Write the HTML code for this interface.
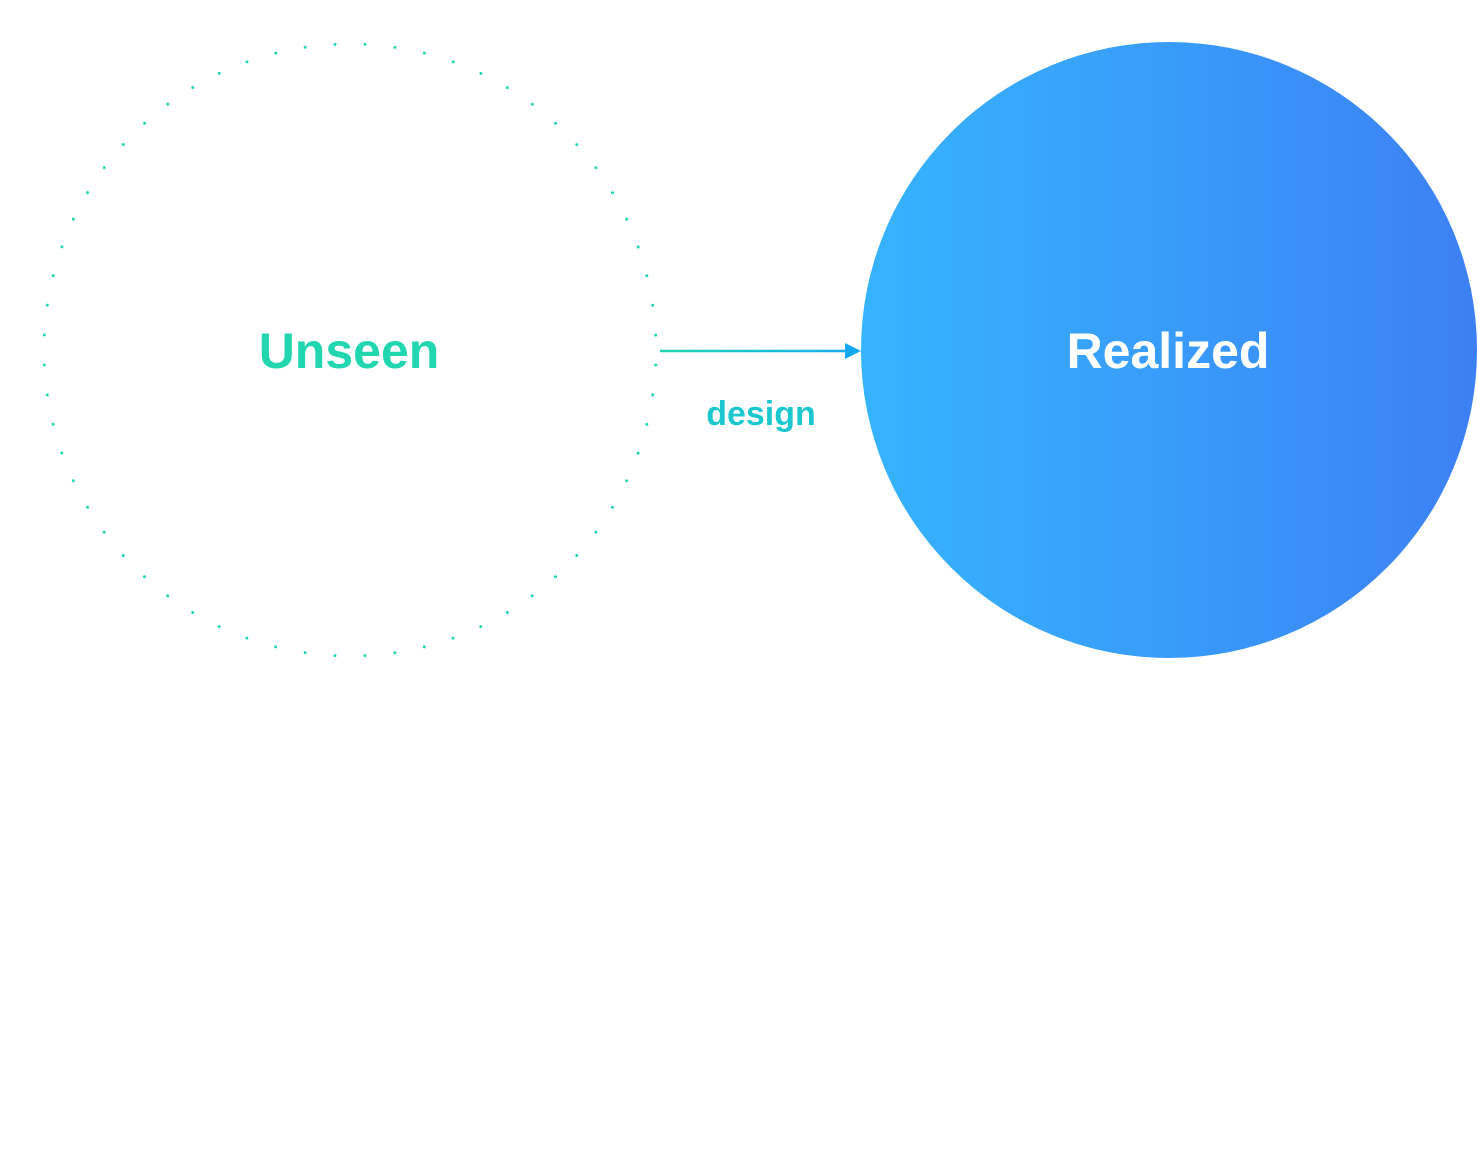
<!DOCTYPE html>
<html><head><style>
html,body{margin:0;padding:0;background:#fff;width:1478px;height:1153px;overflow:hidden}
</style></head><body>
<svg width="1478" height="1153" xmlns="http://www.w3.org/2000/svg">
<defs>
<linearGradient id="g1" x1="0" x2="1" y1="0" y2="0">
<stop offset="0" stop-color="#36b4fe"/><stop offset="0.5" stop-color="#389cfa"/><stop offset="1" stop-color="#3c80f4"/>
</linearGradient>
<linearGradient id="g2" x1="660" x2="860" y1="0" y2="0" gradientUnits="userSpaceOnUse">
<stop offset="0" stop-color="#22d6b0"/><stop offset="1" stop-color="#12a8f5"/>
</linearGradient>
</defs>
<circle cx="350" cy="350" r="306" fill="none" stroke="#22d6b0" stroke-width="3" stroke-linecap="round" stroke-dasharray="0 30.04" stroke-dashoffset="-15.02"/>
<text x="349" y="368" text-anchor="middle" font-family="Liberation Sans, sans-serif" font-weight="bold" font-size="50" fill="#22d6b0">Unseen</text>
<circle cx="1169" cy="350" r="308" fill="url(#g1)"/>
<text x="1168" y="368" text-anchor="middle" font-family="Liberation Sans, sans-serif" font-weight="bold" font-size="50" fill="#fff">Realized</text>
<line x1="660" y1="351" x2="848" y2="351" stroke="url(#g2)" stroke-width="2.5"/>
<polygon points="845,343 861,351 845,359" fill="#12a8f5"/>
<text x="761" y="425" text-anchor="middle" font-family="Liberation Sans, sans-serif" font-weight="bold" font-size="34" fill="#1cc8d0">design</text>
</svg>
</body></html>
